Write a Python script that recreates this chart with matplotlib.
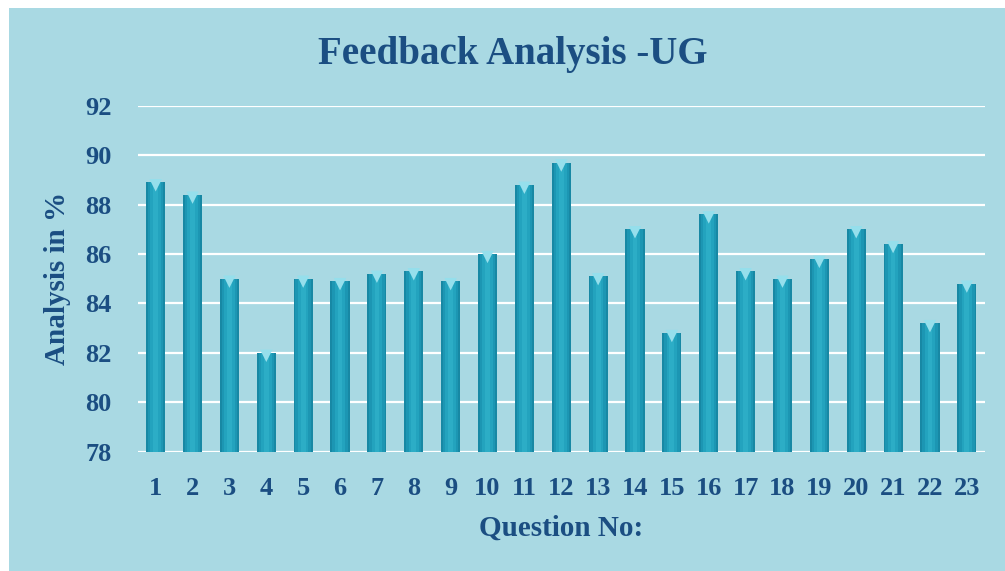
import matplotlib
matplotlib.use("Agg")
import matplotlib.pyplot as plt
import numpy as np

questions = list(range(1, 24))
values = [88.9, 88.4, 85.0, 82.0, 85.0, 84.9, 85.2, 85.3, 84.9, 86.0, 88.8, 89.7,
          85.1, 87.0, 82.8, 87.6, 85.3, 85.0, 85.8, 87.0, 86.4, 83.2, 84.8]
yticks = [78, 80, 82, 84, 86, 88, 90, 92]

title = "Feedback Analysis -UG"
xlabel = "Question No:"
ylabel = "Analysis in %"

bg = "#a9d9e3"
txt = "#1b4e82"
plt.rcParams['font.family'] = ['Liberation Serif', 'DejaVu Serif']
plt.rcParams['font.weight'] = 'bold'

fig = plt.figure(figsize=(10.05, 5.71), dpi=100)
fig.patch.set_facecolor("white")
bgax = fig.add_axes([0.009, 0, 0.991, 0.986], zorder=-10)
bgax.set_facecolor(bg)
bgax.set_xticks([])
bgax.set_yticks([])
for s in bgax.spines.values():
    s.set_visible(False)

ax = fig.add_axes([0.1373, 0.2089, 0.8427, 0.606], zorder=1)
ax.set_facecolor("none")

x = np.array(questions)
w = 0.52
h = np.array(values) - 78
# cylinder-like shading by stacked narrower bars
ax.bar(x, h, bottom=78, width=w, color="#1788a4", zorder=3)
ax.bar(x, h, bottom=78, width=w * 0.8, color="#1c96b3", zorder=3)
ax.bar(x, h, bottom=78, width=w * 0.55, color="#23a3be", zorder=3)
ax.bar(x, h, bottom=78, width=w * 0.25, color="#2cadc6", zorder=3)
ax.scatter(x, np.array(values) - 0.12, marker="v", s=80, color="#95dfec", zorder=4,
           edgecolors="none")

ax.set_ylim(78, 92)
ax.set_xlim(0.52, 23.49)
ax.set_yticks(yticks)
ax.set_xticks(x)
ax.set_xticklabels([str(q) for q in questions])
ax.grid(axis="y", color="white", linewidth=1.6, zorder=1)
ax.set_axisbelow(True)
for s in ax.spines.values():
    s.set_visible(False)
ax.tick_params(axis="both", length=0, labelsize=19, labelcolor=txt)
ax.tick_params(axis="y", pad=19)
ax.tick_params(axis="x", pad=18)
for lab in ax.get_xticklabels() + ax.get_yticklabels():
    lab.set_fontweight("bold")

ax.set_xlabel(xlabel, fontsize=21, color=txt, fontweight="bold", labelpad=11)
ax.set_ylabel(ylabel, fontsize=21, color=txt, fontweight="bold", labelpad=10)
fig.text(0.51, 0.905, title, ha="center", va="center", fontsize=28,
         color=txt, fontweight="bold")

fig.savefig("out.png", dpi=100, facecolor=fig.get_facecolor())
